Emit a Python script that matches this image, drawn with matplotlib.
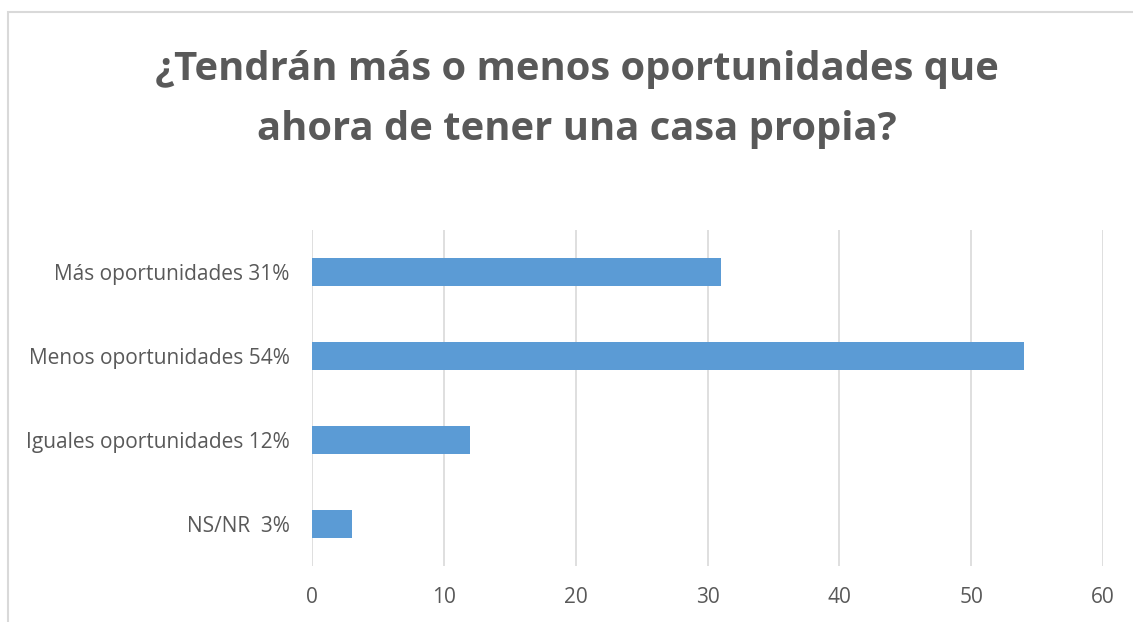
import matplotlib.pyplot as plt
from matplotlib.patches import Rectangle

categories = ['Más oportunidades 31%', 'Menos oportunidades 54%',
              'Iguales oportunidades 12%', 'NS/NR  3%']
values = [31, 54, 12, 3]
xticks = [0, 10, 20, 30, 40, 50, 60]

plt.rcParams['font.family'] = ['Open Sans', 'DejaVu Sans']
text_color = '#595959'

fig = plt.figure(figsize=(11.33, 6.22), dpi=100)
ax = fig.add_axes([0.2754, 0.090, 0.6982, 0.5402])

pos = list(range(len(categories)))
ax.barh(pos, values, height=0.34, color='#5B9BD5', zorder=3)
ax.set_ylim(len(categories) - 0.5, -0.5)
ax.set_yticks(pos)
ax.set_yticklabels(categories, fontsize=15, color=text_color)
ax.set_xlim(0, 60)
ax.set_xticks(xticks)
ax.set_xticklabels([str(t) for t in xticks], fontsize=15, color=text_color)
ax.tick_params(length=0)
ax.tick_params(axis='x', pad=15)
ax.tick_params(axis='y', pad=16)
ax.grid(axis='x', color='#D9D9D9', linewidth=1.2, zorder=0)
for s in ax.spines.values():
    s.set_visible(False)

fig.text(0.509, 0.840, '¿Tendrán más o menos oportunidades que\nahora de tener una casa propia?',
         ha='center', va='center', fontsize=28.8, fontweight='bold',
         color=text_color, linespacing=1.72)

# chart frame
fig.patches.append(Rectangle((8 / 1133, -0.1), 1.2, 1.1 - 12 / 622,
                             transform=fig.transFigure, fill=False,
                             edgecolor='#D9D9D9', linewidth=1.5))

fig.savefig('out.png', dpi=100)
